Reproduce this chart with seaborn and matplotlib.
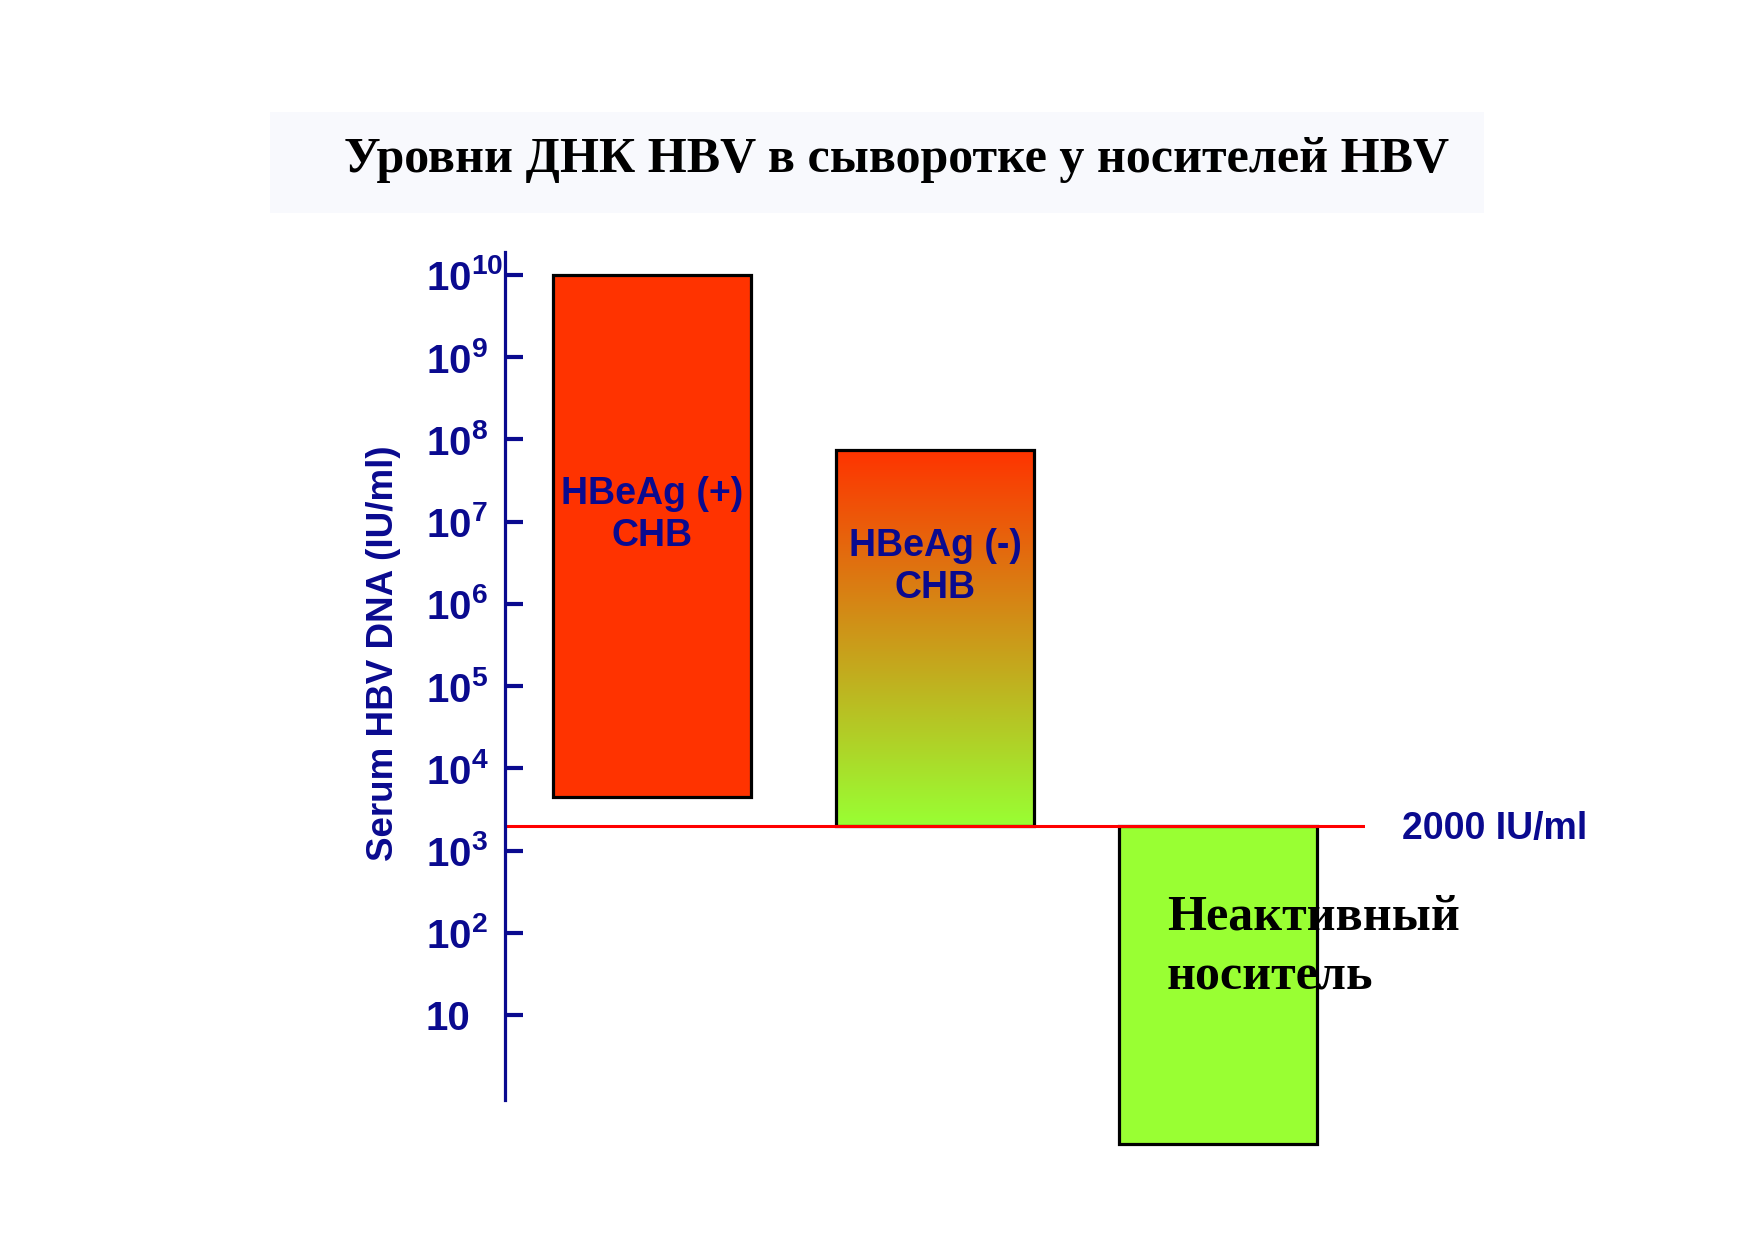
import numpy as np
import matplotlib
matplotlib.use("Agg")
import matplotlib.pyplot as plt
from matplotlib.colors import LinearSegmentedColormap
from matplotlib.patches import Rectangle
import seaborn as sns

# данные (IU/ml)
groups = ["HBeAg (+)\nCHB", "HBeAg (-)\nCHB", "Неактивный\nноситель"]
top_vals = [1e10, 7.5e7, 2000]
bottom_vals = [4500, 2000, 0.27]
bar_colors = ["#FF3300", None, "#99FF33"]
gradient_colors = ["#99FF33", "#FF3300"]
threshold = 2000
tick_exps = [1, 2, 3, 4, 5, 6, 7, 8, 9, 10]
tick_labels = ["10"] + [f"$10^{{{e}}}$" for e in tick_exps[1:]]

navy = "#0A0A8F"

sns.set_style("white")
plt.rcParams["font.family"] = ["Liberation Sans", "DejaVu Sans"]
plt.rcParams["text.color"] = "black"
plt.rcParams["mathtext.fontset"] = "custom"
plt.rcParams["mathtext.rm"] = "Liberation Sans:bold"
plt.rcParams["mathtext.it"] = "Liberation Sans:bold"
plt.rcParams["mathtext.bf"] = "Liberation Sans:bold"

fig = plt.figure(figsize=(17.54, 12.4), dpi=100)
ax = fig.add_axes([0.2879, 0.0721, 0.4903, 0.7247])

# заголовок на светлой плашке
fig.patches.append(Rectangle((0.154, 0.828), 0.692, 0.082, transform=fig.transFigure,
                             facecolor="#F8F9FD", edgecolor="none", zorder=0))
fig.text(0.511, 0.871, "Уровни ДНК HBV в сыворотке у носителей HBV",
         ha="center", va="center", fontsize=36, fontweight="bold", color="black",
         family=["Liberation Serif", "DejaVu Serif"])

# бары в логарифмических единицах
log_top = np.log10(top_vals)
log_bottom = np.log10(bottom_vals)
heights = log_top - log_bottom

sns.barplot(x=list(range(len(groups))), y=heights, bottom=log_bottom, width=0.7,
            color="#FF3300", saturation=1, edgecolor="black", linewidth=2.3,
            ax=ax, zorder=2)

cmap = LinearSegmentedColormap.from_list("grad", gradient_colors)
for patch, col in zip(ax.patches, bar_colors):
    if col is not None:
        patch.set_facecolor(col)
    else:
        patch.set_facecolor("none")
        x0, y0 = patch.get_x(), patch.get_y()
        x1, y1 = x0 + patch.get_width(), y0 + patch.get_height()
        grad = np.linspace(0, 1, 256).reshape(-1, 1)
        ax.imshow(grad, cmap=cmap, origin="lower", aspect="auto",
                  extent=(x0, x1, y0, y1), zorder=1)

# порог 2000 IU/ml
ax.axhline(np.log10(threshold), color="#FF0000", lw=2.2, zorder=3)
ax.text(2.65, 3.26, "2000 IU/ml", color=navy, fontsize=27, fontweight="bold",
        ha="left", va="center", clip_on=False)

# подписи групп
ax.text(0, 7.08, groups[0], color=navy, fontsize=27, fontweight="bold",
        ha="center", va="center", linespacing=1.2)
ax.text(1, 6.45, groups[1], color=navy, fontsize=27, fontweight="bold",
        ha="center", va="center", linespacing=1.2)
ax.text(1.82, 1.82, groups[2], color="black", fontsize=36, fontweight="bold",
        ha="left", va="center", linespacing=1.4, zorder=4,
        family=["Liberation Serif", "DejaVu Serif"])

ax.set_xlim(-0.52, 2.52)
ax.set_ylim(-0.65, 10.28)

ax.set_yticks(tick_exps)
ax.set_yticklabels(tick_labels)
ax.tick_params(axis="y", left=True, direction="in", length=13, width=3, color=navy,
               labelcolor=navy, labelsize=29, pad=57)
for lab in ax.get_yticklabels():
    lab.set_ha("left")
    lab.set_fontweight("bold")
ax.set_xticks([])
ax.set_xlabel("")

for side in ["top", "right", "bottom"]:
    ax.spines[side].set_visible(False)
ax.spines["left"].set_color(navy)
ax.spines["left"].set_linewidth(2.3)
ax.spines["left"].set_bounds(-0.03, 10.28)
ax.spines["left"].set_zorder(5)

ax.set_ylabel("Serum HBV DNA (IU/ml)", color=navy, fontsize=26.5,
              fontweight="bold", va="center")
ax.yaxis.set_label_coords(-0.141, 0.553)

fig.savefig("out.png", dpi=100)
